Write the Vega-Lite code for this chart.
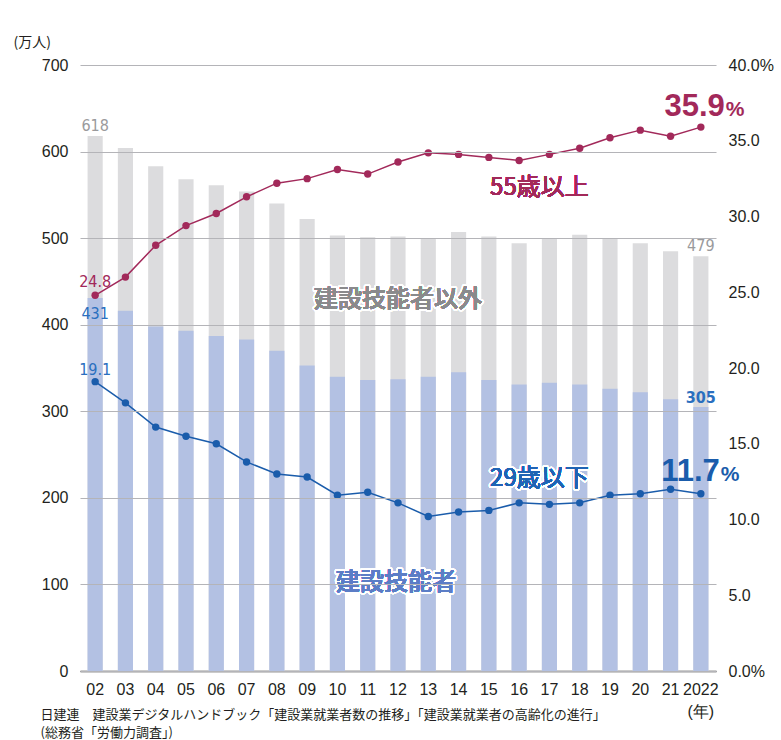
{
  "$schema": "https://vega.github.io/schema/vega-lite/v6.json",
  "width": 636,
  "height": 606,
  "autosize": {"type": "none"},
  "padding": {"left": 80, "top": 65, "right": 65, "bottom": 69},
  "background": "white",
  "config": {"view": {"stroke": null}, "font": "Liberation Sans"},
  "data": {
    "values": [
      {"year": "02", "total": 618, "skilled": 431, "over55": 24.8, "under29": 19.1},
      {"year": "03", "total": 604, "skilled": 416, "over55": 26.0, "under29": 17.7},
      {"year": "04", "total": 583, "skilled": 398, "over55": 28.1, "under29": 16.1},
      {"year": "05", "total": 568, "skilled": 393, "over55": 29.4, "under29": 15.5},
      {"year": "06", "total": 561, "skilled": 387, "over55": 30.2, "under29": 15.0},
      {"year": "07", "total": 554, "skilled": 383, "over55": 31.3, "under29": 13.8},
      {"year": "08", "total": 540, "skilled": 370, "over55": 32.2, "under29": 13.0},
      {"year": "09", "total": 522, "skilled": 353, "over55": 32.5, "under29": 12.8},
      {"year": "10", "total": 503, "skilled": 340, "over55": 33.1, "under29": 11.6},
      {"year": "11", "total": 501, "skilled": 336, "over55": 32.8, "under29": 11.8},
      {"year": "12", "total": 502, "skilled": 337, "over55": 33.6, "under29": 11.1},
      {"year": "13", "total": 500, "skilled": 340, "over55": 34.2, "under29": 10.2},
      {"year": "14", "total": 507, "skilled": 345, "over55": 34.1, "under29": 10.5},
      {"year": "15", "total": 502, "skilled": 336, "over55": 33.9, "under29": 10.6},
      {"year": "16", "total": 494, "skilled": 331, "over55": 33.7, "under29": 11.1},
      {"year": "17", "total": 499, "skilled": 333, "over55": 34.1, "under29": 11.0},
      {"year": "18", "total": 504, "skilled": 331, "over55": 34.5, "under29": 11.1},
      {"year": "19", "total": 500, "skilled": 326, "over55": 35.2, "under29": 11.6},
      {"year": "20", "total": 494, "skilled": 322, "over55": 35.7, "under29": 11.7},
      {"year": "21", "total": 485, "skilled": 314, "over55": 35.3, "under29": 12.0},
      {"year": "2022", "total": 479, "skilled": 305, "over55": 35.9, "under29": 11.7}
    ]
  },
  "encoding": {
    "x": {
      "field": "year",
      "type": "ordinal",
      "scale": {
        "type": "band",
        "domain": ["02","03","04","05","06","07","08","09","10","11","12","13","14","15","16","17","18","19","20","21","2022"],
        "paddingInner": 0.5,
        "paddingOuter": 0.25
      },
      "axis": {
        "domain": true,
        "domainColor": "#333333",
        "domainWidth": 1.5,
        "ticks": false,
        "grid": false,
        "labelAngle": 0,
        "labelPadding": 10,
        "labelFontSize": 16,
        "labelColor": "#231f20",
        "labelOverlap": false,
        "labelBound": false,
        "labelLineHeight": 22,
        "labelExpr": "datum.value == '2022' ? ['2022', '(年)'] : datum.label",
        "title": ["日建連　建設業デジタルハンドブック「建設業就業者数の推移」「建設業就業者の高齢化の進行」", "(総務省「労働力調査」)"],
        "titleFont": "Noto Sans CJK JP",
        "titleFontSize": 13,
        "titleFontWeight": "normal",
        "titleColor": "#231f20",
        "titleAlign": "left",
        "titleBaseline": "top",
        "titleAngle": 0,
        "titleLineHeight": 18,
        "titleX": -40,
        "titleY": 37
      }
    }
  },
  "layer": [
    {
      "mark": {"type": "bar", "color": "#dcdcde"},
      "encoding": {
        "y": {
          "field": "total",
          "type": "quantitative",
          "scale": {"domain": [0, 700], "nice": false},
          "axis": {
            "orient": "left",
            "values": [0, 100, 200, 300, 400, 500, 600, 700],
            "grid": true,
            "gridColor": "#b4b4b8",
            "gridWidth": 1.2,
            "domain": false,
            "ticks": false,
            "labelPadding": 12,
            "labelFontSize": 16,
            "labelColor": "#231f20",
            "zindex": 1,
            "title": "(万人)",
            "titleFont": "Noto Sans CJK JP",
            "titleFontSize": 14,
            "titleFontWeight": "normal",
            "titleColor": "#231f20",
            "titleAngle": 0,
            "titleAlign": "left",
            "titleBaseline": "middle",
            "titleX": -67,
            "titleY": -23
          }
        }
      }
    },
    {
      "mark": {"type": "bar", "color": "#b3c1e3"},
      "encoding": {
        "y": {"field": "skilled", "type": "quantitative", "scale": {"domain": [0, 700], "nice": false}, "axis": null}
      }
    },
    {
      "mark": {"type": "line", "color": "#a2295a", "strokeWidth": 1.5, "point": {"filled": true, "size": 55, "color": "#a2295a"}},
      "encoding": {
        "y": {
          "field": "over55",
          "type": "quantitative",
          "scale": {"domain": [0, 40], "nice": false},
          "axis": {
            "orient": "right",
            "values": [0, 5, 10, 15, 20, 25, 30, 35, 40],
            "labelExpr": "datum.value == 0 || datum.value == 40 ? format(datum.value, '.1f') + '%' : format(datum.value, '.1f')",
            "grid": false,
            "domain": false,
            "ticks": false,
            "labelPadding": 12,
            "labelFontSize": 16,
            "labelColor": "#231f20",
            "title": null
          }
        }
      }
    },
    {
      "mark": {"type": "line", "color": "#1a5cab", "strokeWidth": 1.5, "point": {"filled": true, "size": 55, "color": "#1a5cab"}},
      "encoding": {
        "y": {"field": "under29", "type": "quantitative", "scale": {"domain": [0, 40], "nice": false}, "axis": null}
      }
    },
    {
      "transform": [{"filter": "datum.year == '02' || datum.year == '2022'"}],
      "mark": {"type": "text", "font": "DejaVu Sans Condensed, Liberation Sans", "fontSize": 16, "color": "#9a9a9c", "baseline": "alphabetic", "dy": -5},
      "encoding": {
        "y": {"field": "total", "type": "quantitative", "scale": {"domain": [0, 700], "nice": false}, "axis": null},
        "text": {"field": "total", "type": "quantitative"}
      }
    },
    {
      "transform": [{"filter": "datum.year == '02'"}],
      "mark": {"type": "text", "font": "DejaVu Sans Condensed, Liberation Sans", "fontSize": 16, "color": "#2a6fbf", "baseline": "alphabetic", "dy": 21},
      "encoding": {
        "y": {"field": "skilled", "type": "quantitative", "scale": {"domain": [0, 700], "nice": false}, "axis": null},
        "text": {"field": "skilled", "type": "quantitative"}
      }
    },
    {
      "transform": [{"filter": "datum.year == '2022'"}],
      "mark": {"type": "text", "font": "DejaVu Sans Condensed, Liberation Sans", "fontSize": 16, "fontWeight": "bold", "color": "#2a6fbf", "baseline": "alphabetic", "dy": -4},
      "encoding": {
        "y": {"field": "skilled", "type": "quantitative", "scale": {"domain": [0, 700], "nice": false}, "axis": null},
        "text": {"field": "skilled", "type": "quantitative"}
      }
    },
    {
      "mark": {"type": "text", "font": "Noto Sans CJK JP", "fontSize": 24, "fontWeight": 500, "color": "#8a8a8c", "stroke": "white", "strokeWidth": 4, "strokeJoin": "round", "baseline": "middle"},
      "encoding": {
        "y": {"datum": 428, "type": "quantitative", "scale": {"domain": [0, 700], "nice": false}, "axis": null},
        "x": {"datum": "12"},
        "text": {"value": "建設技能者以外"}
      }
    },
    {
      "mark": {"type": "text", "font": "Noto Sans CJK JP", "fontSize": 24, "fontWeight": 500, "color": "#8a8a8c", "baseline": "middle"},
      "encoding": {
        "y": {"datum": 428, "type": "quantitative", "scale": {"domain": [0, 700], "nice": false}, "axis": null},
        "x": {"datum": "12"},
        "text": {"value": "建設技能者以外"}
      }
    },
    {
      "mark": {"type": "text", "font": "Noto Sans CJK JP", "fontSize": 24, "fontWeight": 500, "color": "#5b7dc6", "stroke": "white", "strokeWidth": 4, "strokeJoin": "round", "baseline": "middle", "dx": -2},
      "encoding": {
        "y": {"datum": 102, "type": "quantitative", "scale": {"domain": [0, 700], "nice": false}, "axis": null},
        "x": {"datum": "12"},
        "text": {"value": "建設技能者"}
      }
    },
    {
      "mark": {"type": "text", "font": "Noto Sans CJK JP", "fontSize": 24, "fontWeight": 500, "color": "#5b7dc6", "baseline": "middle", "dx": -2},
      "encoding": {
        "y": {"datum": 102, "type": "quantitative", "scale": {"domain": [0, 700], "nice": false}, "axis": null},
        "x": {"datum": "12"},
        "text": {"value": "建設技能者"}
      }
    },
    {
      "transform": [{"filter": "datum.year == '02'"}],
      "mark": {"type": "text", "font": "DejaVu Sans Condensed, Liberation Sans", "fontSize": 16, "color": "#a2295a", "baseline": "alphabetic", "dy": -8},
      "encoding": {
        "y": {"field": "over55", "type": "quantitative", "scale": {"domain": [0, 40], "nice": false}, "axis": null},
        "text": {"field": "over55", "type": "quantitative", "format": ".1f"}
      }
    },
    {
      "transform": [{"filter": "datum.year == '02'"}],
      "mark": {"type": "text", "font": "DejaVu Sans Condensed, Liberation Sans", "fontSize": 16, "color": "#2a6fbf", "baseline": "alphabetic", "dy": -7},
      "encoding": {
        "y": {"field": "under29", "type": "quantitative", "scale": {"domain": [0, 40], "nice": false}, "axis": null},
        "text": {"field": "under29", "type": "quantitative", "format": ".1f"}
      }
    },
    {
      "transform": [{"filter": "datum.year == '2022'"}],
      "mark": {"type": "text", "font": "Liberation Sans", "fontSize": 31, "fontWeight": "bold", "color": "#a2295a", "baseline": "alphabetic", "align": "right", "dx": 24, "dy": -11},
      "encoding": {
        "y": {"field": "over55", "type": "quantitative", "scale": {"domain": [0, 40], "nice": false}, "axis": null},
        "text": {"field": "over55", "type": "quantitative", "format": ".1f"}
      }
    },
    {
      "transform": [{"filter": "datum.year == '2022'"}],
      "mark": {"type": "text", "font": "Liberation Sans", "fontSize": 21, "fontWeight": "bold", "color": "#a2295a", "baseline": "alphabetic", "align": "left", "dx": 25, "dy": -11},
      "encoding": {
        "y": {"field": "over55", "type": "quantitative", "scale": {"domain": [0, 40], "nice": false}, "axis": null},
        "text": {"value": "%"}
      }
    },
    {
      "transform": [{"filter": "datum.year == '2022'"}],
      "mark": {"type": "text", "font": "Liberation Sans", "fontSize": 31, "fontWeight": "bold", "color": "#1a5cab", "baseline": "alphabetic", "align": "right", "dx": 19, "dy": -13},
      "encoding": {
        "y": {"field": "under29", "type": "quantitative", "scale": {"domain": [0, 40], "nice": false}, "axis": null},
        "text": {"field": "under29", "type": "quantitative", "format": ".1f"}
      }
    },
    {
      "transform": [{"filter": "datum.year == '2022'"}],
      "mark": {"type": "text", "font": "Liberation Sans", "fontSize": 21, "fontWeight": "bold", "color": "#1a5cab", "baseline": "alphabetic", "align": "left", "dx": 20, "dy": -13},
      "encoding": {
        "y": {"field": "under29", "type": "quantitative", "scale": {"domain": [0, 40], "nice": false}, "axis": null},
        "text": {"value": "%"}
      }
    },
    {
      "mark": {"type": "text", "font": "Noto Sans CJK JP", "fontSize": 24, "fontWeight": "normal", "color": "#a2295a", "baseline": "middle", "dx": -10},
      "encoding": {
        "y": {"datum": 31.9, "type": "quantitative", "scale": {"domain": [0, 40], "nice": false}, "axis": null},
        "x": {"datum": "17"},
        "text": {"value": "55歳以上"}
      }
    },
    {
      "mark": {"type": "text", "font": "Noto Sans CJK JP", "fontSize": 24, "fontWeight": "normal", "color": "#1f64b4", "stroke": "white", "strokeWidth": 4, "strokeJoin": "round", "baseline": "middle", "dx": -10},
      "encoding": {
        "y": {"datum": 12.7, "type": "quantitative", "scale": {"domain": [0, 40], "nice": false}, "axis": null},
        "x": {"datum": "17"},
        "text": {"value": "29歳以下"}
      }
    },
    {
      "mark": {"type": "text", "font": "Noto Sans CJK JP", "fontSize": 24, "fontWeight": "normal", "color": "#1f64b4", "baseline": "middle", "dx": -10},
      "encoding": {
        "y": {"datum": 12.7, "type": "quantitative", "scale": {"domain": [0, 40], "nice": false}, "axis": null},
        "x": {"datum": "17"},
        "text": {"value": "29歳以下"}
      }
    }
  ],
  "resolve": {"scale": {"y": "independent"}}
}
